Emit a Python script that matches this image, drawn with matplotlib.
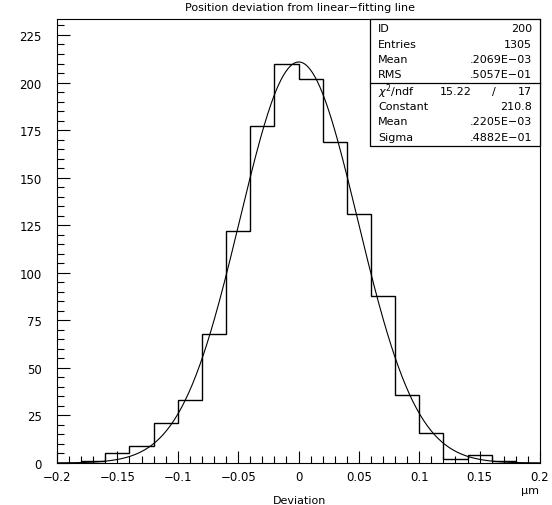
import numpy as np
import matplotlib
matplotlib.use("Agg")
import matplotlib.pyplot as plt
from matplotlib.ticker import MultipleLocator

# histogram: 20 bins from -0.2 to 0.2
bin_edges = np.linspace(-0.2, 0.2, 21)
counts = [0, 1, 5, 9, 21, 33, 68, 122, 177, 210,
          202, 169, 131, 88, 36, 16, 2, 4, 1, 0]

# gaussian fit parameters
fit_const = 210.8
fit_mean = 0.2205e-3
fit_sigma = 0.4882e-1

stats_top = [("ID", "200"), ("Entries", "1305"),
             ("Mean", ".2069E\u221203"), ("RMS", ".5057E\u221201")]
stats_fit = [("Constant", "210.8"), ("Mean", ".2205E\u221203"),
             ("Sigma", ".4882E\u221201")]
chi2_txt = ("15.22", "/", "17")

fig = plt.figure(figsize=(5.52, 5.06), dpi=100)
W, H = 552, 506
ax = fig.add_axes([57 / W, 1 - 464 / H, (540 - 57) / W, (464 - 20) / H])

ax.stairs(counts, bin_edges, color="black", linewidth=1.0)
xs = np.linspace(-0.2, 0.2, 400)
ys = fit_const * np.exp(-0.5 * ((xs - fit_mean) / fit_sigma) ** 2)
ax.plot(xs, ys, color="black", linewidth=0.8)

ax.set_xlim(-0.2, 0.2)
ax.set_ylim(0, 233.4)
ax.xaxis.set_major_locator(MultipleLocator(0.05))
ax.xaxis.set_minor_locator(MultipleLocator(0.01))
ax.yaxis.set_major_locator(MultipleLocator(25))
ax.yaxis.set_minor_locator(MultipleLocator(5))
ax.tick_params(which="both", direction="in", top=False, right=False,
               labelsize=8.5, width=0.8)
ax.tick_params(which="major", length=9)
ax.tick_params(which="minor", length=5)
ax.tick_params(axis="y", pad=11)
ax.tick_params(axis="x", pad=5)
ax.xaxis.set_major_formatter(plt.FuncFormatter(
    lambda v, p: "0" if abs(v) < 1e-9 else ("%g" % v).replace("-", "\u2212")))
for s in ax.spines.values():
    s.set_linewidth(0.8)

fig.text(300 / W, 1 - 8 / H, "Position deviation from linear\u2212fitting line",
         ha="center", va="center", fontsize=8)
fig.text(300 / W, 1 - 501 / H, "Deviation", ha="center", va="center", fontsize=8)
fig.text(530 / W, 1 - 491 / H, "\u03bcm", ha="center", va="center", fontsize=8)

# statistics box
bx0, bx1 = 370, 540
by0, bdiv, by1 = 20, 84, 147
fig.add_artist(plt.Rectangle((bx0 / W, 1 - by1 / H), (bx1 - bx0) / W,
                             (by1 - by0) / H, transform=fig.transFigure,
                             facecolor="white", edgecolor="black", linewidth=0.9))
fig.add_artist(plt.Line2D([bx0 / W, bx1 / W], [1 - bdiv / H, 1 - bdiv / H],
                          transform=fig.transFigure, color="black", linewidth=0.9))
lx, rx = 378, 532
rows_top = [29, 45, 60, 75]
for (k, v), y in zip(stats_top, rows_top):
    fig.text(lx / W, 1 - y / H, k, ha="left", va="center", fontsize=8)
    fig.text(rx / W, 1 - y / H, v, ha="right", va="center", fontsize=8)
fig.text(lx / W, 1 - 92 / H, r"$\chi^2$/ndf", ha="left", va="center", fontsize=8)
fig.text(472 / W, 1 - 92 / H, chi2_txt[0], ha="right", va="center", fontsize=8)
fig.text(494 / W, 1 - 92 / H, chi2_txt[1], ha="center", va="center", fontsize=8)
fig.text(rx / W, 1 - 92 / H, chi2_txt[2], ha="right", va="center", fontsize=8)
rows_fit = [107, 122, 138]
for (k, v), y in zip(stats_fit, rows_fit):
    fig.text(lx / W, 1 - y / H, k, ha="left", va="center", fontsize=8)
    fig.text(rx / W, 1 - y / H, v, ha="right", va="center", fontsize=8)

fig.savefig("out.png", dpi=100)
